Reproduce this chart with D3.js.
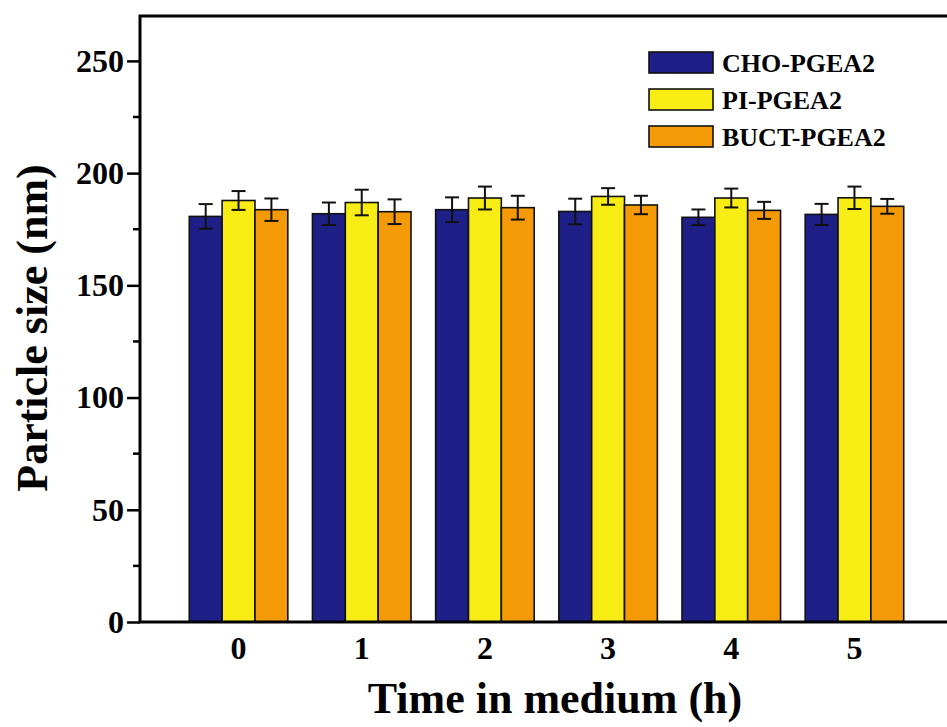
<!DOCTYPE html>
<html>
<head>
<meta charset="utf-8">
<script src="https://d3js.org/d3.v7.min.js"></script>
<style>
  body { margin: 0; background: #fff; }
  svg text { font-family: "Liberation Serif", "Times New Roman", serif; font-weight: bold; fill: #000; }
</style>
</head>
<body>
<div class="canvas"><svg width="947" height="727"></svg></div>
<script>
var width = 947;
var height = 727;

// data
var times = ["0", "1", "2", "3", "4", "5"];
var seriesNames = ["CHO-PGEA2", "PI-PGEA2", "BUCT-PGEA2"];
var seriesColors = ["#1e2087", "#f7ec13", "#f59a07"];
var choMean = [180.7, 181.9, 183.7, 182.9, 180.3, 181.6];
var choErr  = [5.5, 5.0, 5.5, 5.7, 3.5, 4.7];
var piMean  = [187.8, 186.9, 188.9, 189.6, 188.9, 189.0];
var piErr   = [4.2, 5.7, 5.1, 3.7, 4.2, 5.0];
var buctMean = [183.7, 182.8, 184.6, 185.8, 183.4, 185.2];
var buctErr  = [5.0, 5.5, 5.3, 4.1, 3.8, 3.3];
var yTicks = [0, 50, 100, 150, 200, 250];

var means = [choMean, piMean, buctMean];
var errs = [choErr, piErr, buctErr];

var margin = {left: 140, top: 16, right: -6, bottom: 105};
var innerW = width - margin.left - margin.right;
var innerH = height - margin.top - margin.bottom;

var svg = d3.select(".canvas").select("svg");
var g = svg.append("g").attr("transform", "translate(" + margin.left + "," + margin.top + ")");

var x0 = d3.scaleBand()
    .domain(times)
    .range([0, innerW])
    .paddingInner(0.2)
    .paddingOuter(0.4);

var x1 = d3.scaleBand()
    .domain(d3.range(seriesNames.length))
    .range([0, x0.bandwidth()]);

var y = d3.scaleLinear()
    .domain([0, 270])
    .range([innerH, 0]);

// flatten
var rows = [];
times.forEach(function(t, i){
    seriesNames.forEach(function(s, j){
        rows.push({t: t, s: j, v: means[j][i], e: errs[j][i]});
    });
});

// bars
g.selectAll(".bar")
    .data(rows)
    .enter()
    .append("rect")
    .attr("class", "bar")
    .attr("x", function(d){ return x0(d.t) + x1(d.s); })
    .attr("y", function(d){ return y(d.v); })
    .attr("width", x1.bandwidth())
    .attr("height", function(d){ return y(0) - y(d.v); })
    .style("fill", function(d){ return seriesColors[d.s]; })
    .style("stroke", "#111")
    .style("stroke-width", 1.6);

// error bars
var eb = g.selectAll(".err")
    .data(rows)
    .enter()
    .append("g")
    .attr("class", "err")
    .attr("transform", function(d){ return "translate(" + (x0(d.t) + x1(d.s) + x1.bandwidth()/2) + ",0)"; })
    .style("stroke", "#111")
    .style("stroke-width", 2);
eb.append("line")
    .attr("x1", 0).attr("x2", 0)
    .attr("y1", function(d){ return y(d.v + d.e); })
    .attr("y2", function(d){ return y(d.v - d.e); });
eb.append("line")
    .attr("x1", -7).attr("x2", 7)
    .attr("y1", function(d){ return y(d.v + d.e); })
    .attr("y2", function(d){ return y(d.v + d.e); });
eb.append("line")
    .attr("x1", -7).attr("x2", 7)
    .attr("y1", function(d){ return y(d.v - d.e); })
    .attr("y2", function(d){ return y(d.v - d.e); });

// axes
var axisY = d3.axisLeft(y)
    .tickValues(yTicks)
    .tickSize(13)
    .tickPadding(3);
var yAx = g.append("g").attr("class", "axis axis-y").call(axisY);

var minor = d3.range(25, 270, 50);
g.append("g").selectAll("line")
    .data(minor)
    .enter()
    .append("line")
    .attr("x1", -7).attr("x2", 0)
    .attr("y1", function(d){ return y(d); })
    .attr("y2", function(d){ return y(d); })
    .style("stroke", "#000").style("stroke-width", 2.5);

var axisX = d3.axisBottom(x0)
    .tickSize(0)
    .tickPadding(14);
var xAx = g.append("g").attr("class", "axis axis-x")
    .attr("transform", "translate(0," + innerH + ")")
    .call(axisX);

svg.selectAll(".axis path").remove();
svg.selectAll(".axis line").style("stroke", "#000").style("stroke-width", 2.5);
svg.selectAll(".axis text").style("font-size", "32px");

// frame
g.append("rect")
    .attr("x", 0).attr("y", 0)
    .attr("width", innerW).attr("height", innerH)
    .style("fill", "none")
    .style("stroke", "#000")
    .style("stroke-width", 3);

// titles
svg.append("text")
    .attr("x", 555).attr("y", 713)
    .attr("text-anchor", "middle")
    .style("font-size", "44px")
    .text("Time in medium (h)");

svg.append("text")
    .attr("transform", "translate(47,328) rotate(-90)")
    .attr("text-anchor", "middle")
    .style("font-size", "44px")
    .text("Particle size (nm)");

// legend
var legend = svg.append("g").attr("transform", "translate(649,52)");
var items = legend.selectAll(".item")
    .data(seriesNames)
    .enter()
    .append("g")
    .attr("transform", function(d, i){ return "translate(0," + (i*37) + ")"; });
items.append("rect")
    .attr("width", 64).attr("height", 21)
    .style("fill", function(d, i){ return seriesColors[i]; })
    .style("stroke", "#111")
    .style("stroke-width", 1.6);
items.append("text")
    .attr("x", 73).attr("y", 20)
    .style("font-size", "26px")
    .text(function(d){ return d; });
</script>
</body>
</html>
